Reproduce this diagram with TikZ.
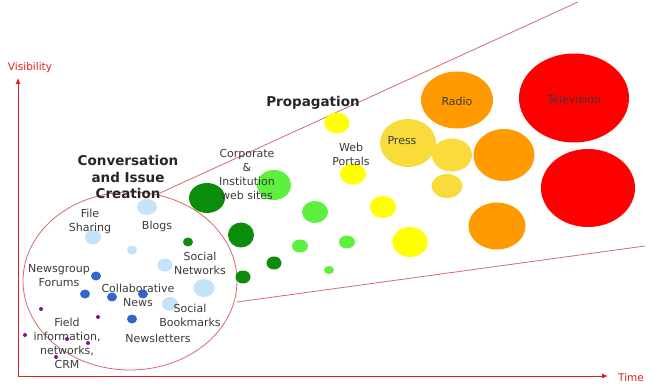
\documentclass[tikz,border=0pt]{standalone}
\usepackage{fontspec}
\setmainfont{DejaVu Sans}
\usetikzlibrary{shapes.geometric,arrows.meta}
\definecolor{lblue}{HTML}{C5E3F8}
\definecolor{dblue}{HTML}{3366CC}
\definecolor{purp}{HTML}{7B1A7B}
\definecolor{dgreen}{HTML}{0B8C0B}
\definecolor{lgreen}{HTML}{5DF03F}
\definecolor{yel}{HTML}{FFFF00}
\definecolor{gold}{HTML}{F9DC3C}
\definecolor{orng}{HTML}{FF9A00}
\definecolor{rd}{HTML}{FF0000}
\definecolor{funnel}{HTML}{D46A6A}
\definecolor{axis}{HTML}{E02020}
\definecolor{txt}{HTML}{3A3A3A}
\tikzset{
  bub/.style n args={3}{ellipse, fill=#1, inner sep=0pt, minimum width=#2, minimum height=#3},
  lbl/.style={text=txt, align=center, font=\fontsize{11}{14}\selectfont, inner sep=0pt},
  head/.style={text=black!85, align=center, font=\fontsize{13.5}{16.5}\selectfont\bfseries, inner sep=0pt},
  axlbl/.style={text=axis, font=\fontsize{10.5}{13}\selectfont, inner sep=0pt},
  funnelline/.style={draw=funnel, line width=0.8pt},
  axisline/.style={draw=axis, line width=0.9pt, -{Latex[length=6pt,width=5pt]}}
}
\begin{document}
\begin{tikzpicture}[x=1pt,y=-1pt]
\useasboundingbox (0,0) rectangle (654,385);
% funnel
\coordinate (ft1) at (160,193);
\coordinate (ft2) at (578,2);
\coordinate (fb1) at (237,302);
\coordinate (fb2) at (645,246);
\draw[funnelline] (ft1) -- (ft2);
\draw[funnelline] (fb1) -- (fb2);
\node[ellipse, funnelline, fill=none, minimum width=214pt, minimum height=178pt, inner sep=0pt] (zone) at (130,281) {};
% axes
\coordinate (origin) at (18,376);
\coordinate (ytip) at (18,78);
\coordinate (xtip) at (608,376);
\draw[axisline] (origin) -- (ytip);
\draw[axisline] (origin) -- (xtip);
\node[axlbl] (vis) at (30,68) {Visibility};
\node[axlbl] (time) at (631,378) {Time};
% light blue bubbles
\node[bub={lblue}{20pt}{16pt}] (lb1) at (147,207) {};
\node[bub={lblue}{16pt}{15pt}] (lb2) at (93,237) {};
\node[bub={lblue}{10pt}{9pt}] (lb3) at (132,250) {};
\node[bub={lblue}{15pt}{13pt}] (lb4) at (165,265) {};
\node[bub={lblue}{21pt}{18pt}] (lb5) at (204,288) {};
\node[bub={lblue}{16pt}{14pt}] (lb6) at (170,304) {};
% blue dots
\node[bub={dblue}{10pt}{9pt}] (b1) at (96,276) {};
\node[bub={dblue}{10pt}{9pt}] (b2) at (85,294) {};
\node[bub={dblue}{10pt}{9pt}] (b3) at (112,297) {};
\node[bub={dblue}{10pt}{9pt}] (b4) at (143,294) {};
\node[bub={dblue}{10pt}{9pt}] (b5) at (132,319) {};
% purple dots
\node[bub={purp}{4pt}{4pt}] (p1) at (41,309) {};
\node[bub={purp}{4pt}{4pt}] (p2) at (98,317) {};
\node[bub={purp}{4pt}{4pt}] (p3) at (25,335) {};
\node[bub={purp}{4pt}{4pt}] (p4) at (67,339) {};
\node[bub={purp}{4pt}{4pt}] (p5) at (88,343) {};
\node[bub={purp}{4pt}{4pt}] (p6) at (56,357) {};
% dark green
\node[bub={dgreen}{36pt}{30pt}] (dg1) at (207,198) {};
\node[bub={dgreen}{26pt}{25pt}] (dg2) at (241,235) {};
\node[bub={dgreen}{10pt}{9pt}] (dg3) at (188,242) {};
\node[bub={dgreen}{15pt}{13pt}] (dg4) at (274,263) {};
\node[bub={dgreen}{15pt}{13pt}] (dg5) at (243,277) {};
% light green
\node[bub={lgreen}{34pt}{30pt}] (lg1) at (274,185) {};
\node[bub={lgreen}{26pt}{22pt}] (lg2) at (315,212) {};
\node[bub={lgreen}{16pt}{13pt}] (lg3) at (300,246) {};
\node[bub={lgreen}{16pt}{13pt}] (lg4) at (347,242) {};
\node[bub={lgreen}{10pt}{8pt}] (lg5) at (329,270) {};
% yellow
\node[bub={yel}{25pt}{21pt}] (y1) at (337,123) {};
\node[bub={yel}{26pt}{21pt}] (y2) at (353,174) {};
\node[bub={yel}{26pt}{22pt}] (y3) at (383,207) {};
\node[bub={yel}{35pt}{30pt}] (y4) at (410,242) {};
% gold
\node[bub={gold}{56pt}{48pt}] (press) at (408,143) {};
\node[bub={gold}{40pt}{33pt}] (g2) at (452,155) {};
\node[bub={gold}{31pt}{24pt}] (g3) at (447,186) {};
% orange
\node[bub={orng}{72pt}{57pt}] (radio) at (457,100) {};
\node[bub={orng}{61pt}{52pt}] (o2) at (504,155) {};
\node[bub={orng}{57pt}{47pt}] (o3) at (497,226) {};
% red
\node[bub={rd}{110pt}{89pt}] (tv) at (574,98) {};
\node[bub={rd}{94pt}{78pt}] (r2) at (588,188) {};
% labels
\node[lbl] (tpress) at (402,141) {Press};
\node[lbl] (tradio) at (457,101) {Radio};
\node[lbl] (ttv) at (574,99) {Television};
\node[head] (conv) at (128,177) {Conversation\\and Issue\\Creation};
\node[head] (prop) at (313,103) {Propagation};
\node[lbl] (tfile) at (90,221) {File\\Sharing};
\node[lbl] (tblogs) at (157,226) {Blogs};
\node[lbl] (tsoc) at (200,263) {Social\\Networks};
\node[lbl] (tnews) at (59,276) {Newsgroup\\Forums};
\node[lbl] (tcoll) at (138,295) {Collaborative\\News};
\node[lbl] (tbook) at (190,315) {Social\\Bookmarks};
\node[lbl] (tfield) at (67,343) {Field\\information,\\networks,\\CRM};
\node[lbl] (tletters) at (158,338) {Newsletters};
\node[lbl] (tcorp) at (247,174) {Corporate\\\&\\Institution\\web sites};
\node[lbl] (tportal) at (351,154) {Web\\Portals};
\end{tikzpicture}
\end{document}
